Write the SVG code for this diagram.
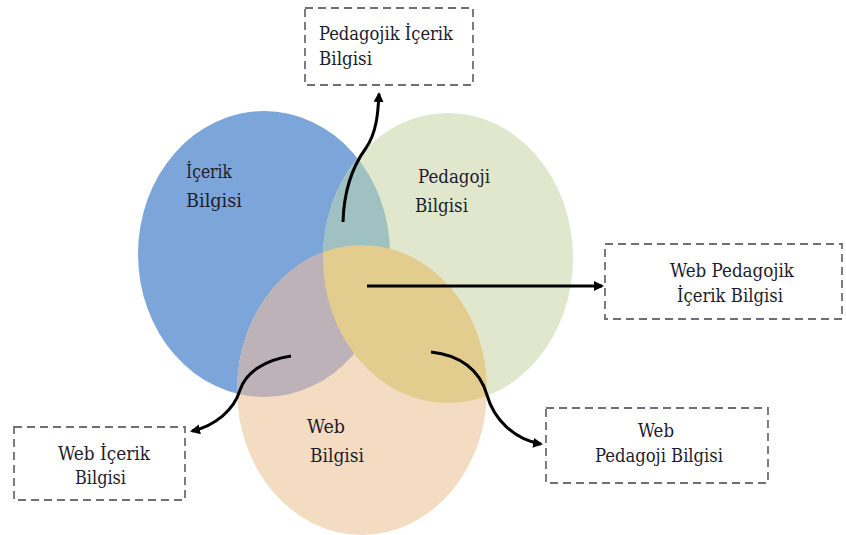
<svg xmlns="http://www.w3.org/2000/svg" width="846" height="535" viewBox="0 0 846 535">
<style>
text{font-family:'DejaVu Serif Condensed','DejaVu Serif',serif;font-stretch:condensed;font-size:18px;fill:#1c1c2c}
.box{fill:#fff;stroke:#716d78;stroke-width:1.8;stroke-dasharray:8 5}
.con{fill:none;stroke:#000;stroke-width:3}
</style>
<defs>
<marker id="ah" markerWidth="10" markerHeight="10" refX="8" refY="5" orient="auto" markerUnits="userSpaceOnUse">
<path d="M0,0 L10,5 L0,10 Z" fill="#000"/>
</marker>
<clipPath id="cBlue"><ellipse cx="264" cy="254" rx="126" ry="143"/></clipPath>
<clipPath id="cGreen"><ellipse cx="448" cy="258" rx="125" ry="145"/></clipPath>
</defs>
<rect width="846" height="535" fill="#fff"/>
<g id="venn">
<g id="icerik">
<ellipse cx="264" cy="254" rx="126" ry="143" fill="#7ca5da"/>
</g>
<g id="pedagoji">
<ellipse cx="448" cy="258" rx="125" ry="145" fill="#e0e7cc"/>
</g>
<g id="web">
<ellipse cx="362" cy="390" rx="125" ry="145" fill="#f4dcc2"/>
</g>
<ellipse cx="448" cy="258" rx="125" ry="145" fill="#9fc1c2" clip-path="url(#cBlue)"/>
<ellipse cx="362" cy="390" rx="125" ry="145" fill="#bdb2b8" clip-path="url(#cBlue)"/>
<ellipse cx="362" cy="390" rx="125" ry="145" fill="#e2cc8e" clip-path="url(#cGreen)"/>
<text x="186" y="178" textLength="46" lengthAdjust="spacingAndGlyphs">İçerik</text>
<text x="186" y="207" textLength="56" lengthAdjust="spacingAndGlyphs">Bilgisi</text>
<text x="418" y="183" textLength="72" lengthAdjust="spacingAndGlyphs">Pedagoji</text>
<text x="415" y="212" textLength="53" lengthAdjust="spacingAndGlyphs">Bilgisi</text>
<text x="307" y="433" textLength="38" lengthAdjust="spacingAndGlyphs">Web</text>
<text x="310" y="462" textLength="54" lengthAdjust="spacingAndGlyphs">Bilgisi</text>
</g>
<g id="box-pib">
<rect class="box" x="305" y="8" width="168" height="77"/>
<text x="319" y="40" textLength="134" lengthAdjust="spacingAndGlyphs">Pedagojik İçerik</text>
<text x="319" y="65" textLength="53" lengthAdjust="spacingAndGlyphs">Bilgisi</text>
</g>
<g id="box-wpib">
<rect class="box" x="605" y="244" width="237" height="75"/>
<text x="670" y="277" textLength="124" lengthAdjust="spacingAndGlyphs">Web Pedagojik</text>
<text x="677" y="302" textLength="106" lengthAdjust="spacingAndGlyphs">İçerik Bilgisi</text>
</g>
<g id="box-wib">
<rect class="box" x="14" y="427" width="171" height="73"/>
<text x="58" y="460" textLength="92" lengthAdjust="spacingAndGlyphs">Web İçerik</text>
<text x="75" y="484" textLength="51" lengthAdjust="spacingAndGlyphs">Bilgisi</text>
</g>
<g id="box-wpb">
<rect class="box" x="546" y="408" width="222" height="75"/>
<text x="638" y="437" textLength="36" lengthAdjust="spacingAndGlyphs">Web</text>
<text x="595" y="462" textLength="128" lengthAdjust="spacingAndGlyphs">Pedagoji Bilgisi</text>
</g>
<g id="connectors">
<path class="con" d="M343,222 C344,185 355,163 366,148 C377,132 378,112 379,94" marker-end="url(#ah)"/>
<path class="con" d="M367,286 L602,286" marker-end="url(#ah)"/>
<path class="con" d="M291,356 C265,360 246,372 240,390 C234,410 215,426 192,431" marker-end="url(#ah)"/>
<path class="con" d="M431,352 C460,355 480,370 487,395 C494,420 515,440 541,444" marker-end="url(#ah)"/>
</g>
</svg>
